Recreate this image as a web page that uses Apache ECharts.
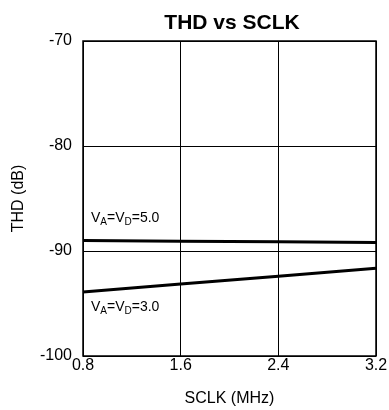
<!DOCTYPE html>
<html>
<head>
<meta charset="utf-8">
<script src="https://cdn.jsdelivr.net/npm/echarts@6/dist/echarts.min.js"></script>
<style>
    html, body { margin: 0; padding: 0; background: #fff; }
    #chart { width: 389px; height: 410px; }
</style>
</head>
<body>
<div id="chart"></div>
<script>
var sclk = [0.8, 1.6, 2.4, 3.2];
var thd50 = [-89.0, -89.07, -89.13, -89.2];
var thd30 = [-93.9, -93.15, -92.4, -91.65];
var xTicks = [0.8, 1.6, 2.4, 3.2];
var yTicks = [-100, -90, -80, -70];

function pairs(xs, ys) {
    var out = [];
    for (var i = 0; i < xs.length; i++) {
        out.push([xs[i], ys[i]]);
    }
    return out;
}

var myChart = echarts.init(document.getElementById('chart'));
var font = 'Liberation Sans, Arial, sans-serif';

var labelRich = {
    n: { fontSize: 14, fontFamily: font, color: '#000', lineHeight: 16 },
    s: { fontSize: 10, fontFamily: font, color: '#000', lineHeight: 16, padding: [8, 0, 0, 0] }
};

var option = {
    animation: false,
    title: {
        text: 'THD vs SCLK',
        left: 227,
        top: 8,
        textAlign: 'center',
        textStyle: { fontFamily: font, fontSize: 21, fontWeight: 'bold', color: '#000' }
    },
    grid: {
        left: 83,
        right: 13,
        top: 41,
        bottom: 54,
        outerBoundsMode: 'none',
        containLabel: false,
        show: true,
        borderColor: '#000',
        borderWidth: 1.5
    },
    xAxis: {
        type: 'value',
        min: 0.8,
        max: 3.2,
        interval: 0.8,
        name: 'SCLK (MHz)',
        nameLocation: 'middle',
        nameGap: 35,
        nameTextStyle: { fontFamily: font, fontSize: 16, color: '#000' },
        axisLine: { show: false },
        axisTick: { show: false },
        axisLabel: {
            fontFamily: font, fontSize: 16, color: '#000', margin: 2,
            formatter: function (v) { return v.toFixed(1); }
        },
        splitLine: { show: true, lineStyle: { color: '#000', width: 1 } }
    },
    yAxis: {
        type: 'value',
        min: -100,
        max: -70,
        interval: 10,
        name: 'THD (dB)',
        nameLocation: 'middle',
        nameGap: 56,
        nameTextStyle: { fontFamily: font, fontSize: 16, color: '#000' },
        axisLine: { show: false },
        axisTick: { show: false },
        axisLabel: { fontFamily: font, fontSize: 16, color: '#000', margin: 11 },
        splitLine: { show: true, lineStyle: { color: '#000', width: 1 } }
    },
    series: [
        {
            name: 'VA=VD=5.0',
            type: 'line',
            data: pairs(sclk, thd50),
            symbol: 'none',
            lineStyle: { color: '#000', width: 3 }
        },
        {
            name: 'VA=VD=3.0',
            type: 'line',
            data: pairs(sclk, thd30),
            symbol: 'none',
            lineStyle: { color: '#000', width: 3 }
        }
    ],
    graphic: [
        {
            type: 'text',
            left: 91,
            top: 209,
            style: {
                text: '{n|V}{s|A}{n|=V}{s|D}{n|=5.0}',
                rich: labelRich
            }
        },
        {
            type: 'text',
            left: 91,
            top: 298,
            style: {
                text: '{n|V}{s|A}{n|=V}{s|D}{n|=3.0}',
                rich: labelRich
            }
        }
    ]
};

myChart.setOption(option);
</script>
</body>
</html>
